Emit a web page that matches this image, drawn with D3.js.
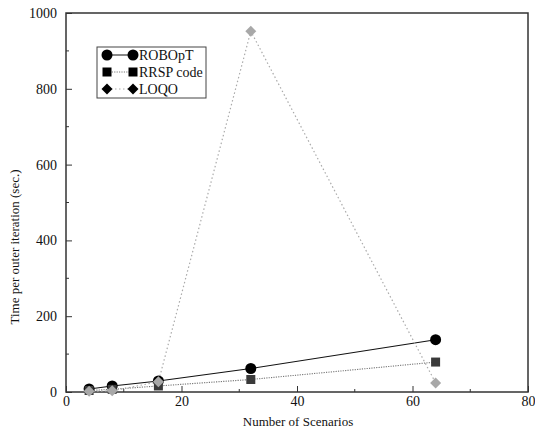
<!DOCTYPE html>
<html>
<head>
<meta charset="utf-8">
<script src="https://cdn.jsdelivr.net/npm/d3@7/dist/d3.min.js"></script>
<style>
  html, body { margin: 0; padding: 0; background: #fff; }
  svg { display: block; }
  svg text { font-family: "Liberation Serif", "Times New Roman", Times, "DejaVu Serif", serif !important; }
</style>
</head>
<body>
<svg id="chart" width="535" height="430"></svg>
<script>
// Scenario counts and per-solver timings (seconds per outer iteration)
const scenarios = [4, 8, 16, 32, 64];
const robopt   = [8, 16, 29, 62, 138];
const rrsp     = [4, 7, 16, 33, 79];
const loqo     = [2, 3, 27, 952, 24];

const seriesNames  = ["ROBOpT", "RRSP code", "LOQO"];
const xTicks = [0, 20, 40, 60, 80];
const yTicks = [0, 200, 400, 600, 800, 1000];

const series = [
  { name: seriesNames[0], values: robopt, color: "#000", lineColor: "#111", dash: null, shape: "circle", width: 1.1 },
  { name: seriesNames[1], values: rrsp,   color: "#3a3a3a", lineColor: "#777", dash: "1.2,1.2", shape: "square", width: 1.1 },
  { name: seriesNames[2], values: loqo,   color: "#a8a8a8", lineColor: "#aaa", dash: "1.5,2.5", shape: "diamond", width: 1.2 }
];

const svg = d3.select("#chart");
const m = { left: 66, right: 528, top: 13, bottom: 392 };

const x = d3.scaleLinear().domain([0, 80]).range([m.left, m.right]);
const y = d3.scaleLinear().domain([0, 1000]).range([m.bottom, m.top]);

// Ticks pointing into the plot (major + minor)
const xAxis = d3.axisBottom(x).tickValues(xTicks).tickSize(-6).tickPadding(4).tickFormat(d3.format("d"));
const yAxis = d3.axisLeft(y).tickValues(yTicks).tickSize(-6).tickPadding(9).tickFormat(d3.format("d"));

const gx = svg.append("g").attr("transform", `translate(0,${m.bottom})`).call(xAxis);
const gy = svg.append("g").attr("transform", `translate(${m.left},0)`).call(yAxis);
[gx, gy].forEach(g => {
  g.attr("font-family", null);
  g.select(".domain").remove();
  g.selectAll("line").attr("stroke", "#333").attr("stroke-width", 1);
  g.selectAll("text").attr("fill", "#111").style("font-size", "14px");
});

const xMinor = [10, 30, 50, 70];
const yMinor = [100, 300, 500, 700, 900];
svg.append("g").selectAll("line").data(xMinor).join("line")
  .attr("x1", d => x(d)).attr("x2", d => x(d))
  .attr("y1", m.bottom).attr("y2", m.bottom - 3)
  .attr("stroke", "#333");
svg.append("g").selectAll("line").data(yMinor).join("line")
  .attr("x1", m.left).attr("x2", m.left + 3)
  .attr("y1", d => y(d)).attr("y2", d => y(d))
  .attr("stroke", "#333");

// Plot frame
svg.append("rect")
  .attr("x", m.left).attr("y", m.top)
  .attr("width", m.right - m.left).attr("height", m.bottom - m.top)
  .attr("fill", "none").attr("stroke", "#333").attr("stroke-width", 1.5);

// Axis titles
svg.append("text")
  .attr("x", 298).attr("y", 426)
  .attr("text-anchor", "middle")
  .style("font-size", "13px").attr("fill", "#111")
  .text("Number of Scenarios");
svg.append("text")
  .attr("transform", "translate(19,247) rotate(-90)")
  .attr("text-anchor", "middle")
  .style("font-size", "13px").attr("fill", "#111")
  .text("Time per outer iteration (sec.)");

function drawMarker(g, shape, cx, cy, color) {
  if (shape === "circle") {
    g.append("circle").attr("cx", cx).attr("cy", cy).attr("r", 5.5).attr("fill", color);
  } else if (shape === "square") {
    g.append("rect").attr("x", cx - 4.5).attr("y", cy - 4.5).attr("width", 9).attr("height", 9).attr("fill", color);
  } else {
    const s = 5.5;
    g.append("path").attr("d", `M${cx},${cy - s}L${cx + s},${cy}L${cx},${cy + s}L${cx - s},${cy}Z`).attr("fill", color);
  }
}

const line = d3.line().x(d => x(d[0])).y(d => y(d[1]));

// Lines first, then markers drawn on top
const plot = svg.append("g");
series.forEach(s => {
  const pts = scenarios.map((sc, i) => [sc, s.values[i]]);
  plot.append("path")
    .datum(pts)
    .attr("d", line)
    .attr("fill", "none")
    .attr("stroke", s.lineColor)
    .attr("stroke-width", s.width)
    .attr("stroke-dasharray", s.dash);
});
series.forEach(s => {
  const g = plot.append("g");
  scenarios.forEach((sc, i) => drawMarker(g, s.shape, x(sc), y(s.values[i]), s.color));
});

// Legend
const lg = svg.append("g");
lg.append("rect")
  .attr("x", 97).attr("y", 47).attr("width", 109).attr("height", 51)
  .attr("fill", "#fff").attr("stroke", "#444").attr("stroke-width", 1);
series.forEach((s, i) => {
  const cy = 55 + i * 17;
  lg.append("line")
    .attr("x1", 107).attr("x2", 133).attr("y1", cy).attr("y2", cy)
    .attr("stroke", s.lineColor).attr("stroke-width", 1)
    .attr("stroke-dasharray", s.dash);
  drawMarker(lg, s.shape, 107, cy, "#000");
  drawMarker(lg, s.shape, 133, cy, "#000");
  lg.append("text")
    .attr("x", 139).attr("y", cy + 4.5)
    .style("font-size", "14px").attr("fill", "#111")
    .text(s.name);
});
</script>
</body>
</html>
